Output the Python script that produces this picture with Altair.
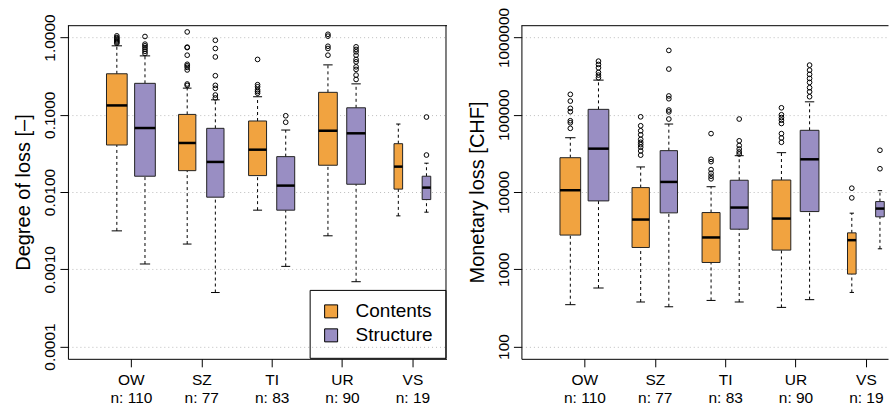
import json
import math
import altair as alt
import pandas as pd

# ---------------- data ----------------
categories = ["OW", "SZ", "TI", "UR", "VS"]
n_obs = [110, 77, 83, 90, 19]
groups = ["Contents", "Structure"]

# Degree of loss [-]
deg_c_low = [0.00314, 0.00212, 0.00582, 0.00271, 0.00491]
deg_c_q1 = [0.0406, 0.0189, 0.0163, 0.0222, 0.0109]
deg_c_med = [0.132, 0.0431, 0.0353, 0.0621, 0.0213]
deg_c_q3 = [0.339, 0.101, 0.083, 0.195, 0.0422]
deg_c_high = [0.78, 0.221, 0.171, 0.442, 0.0758]

deg_s_low = [0.00117, 0.0005, 0.00109, 0.00069, 0.00548]
deg_s_q1 = [0.016, 0.00857, 0.00582, 0.0126, 0.00798]
deg_s_med = [0.0673, 0.0245, 0.0121, 0.0575, 0.0114]
deg_s_q3 = [0.255, 0.0667, 0.0287, 0.123, 0.016]
deg_s_high = [0.578, 0.156, 0.0634, 0.251, 0.0236]

deg_c_out_OW = [1.05, 1.0, 0.97, 0.93, 0.9, 0.87, 0.84]
deg_c_out_SZ = [1.18, 0.75, 0.74, 0.59, 0.45, 0.43, 0.41, 0.38, 0.25, 0.24]
deg_c_out_TI = [0.52, 0.245, 0.23, 0.21, 0.2, 0.19]
deg_c_out_UR = [1.1, 1.04, 0.77, 0.72, 0.59]
deg_c_out_VS = []

deg_s_out_OW = [1.03, 0.82, 0.78, 0.74, 0.70, 0.66, 0.62]
deg_s_out_SZ = [0.92, 0.72, 0.56, 0.32, 0.24, 0.22, 0.18, 0.165]
deg_s_out_TI = [0.097, 0.08]
deg_s_out_UR = [0.757, 0.70, 0.652, 0.59, 0.52, 0.484, 0.417, 0.386, 0.326, 0.286]
deg_s_out_VS = [0.0934, 0.0301]

# Monetary loss [CHF]
mon_c_low = [348, 377, 395, 321, 501]
mon_c_q1 = [2770, 1914, 1224, 1770, 867]
mon_c_med = [10540, 4400, 2580, 4530, 2380]
mon_c_q3 = [27800, 11400, 5420, 14300, 2960]
mon_c_high = [50400, 21100, 11700, 32300, 5320]

mon_s_low = [572, 327, 377, 404, 1840]
mon_s_q1 = [7670, 5370, 3300, 5580, 4770]
mon_s_med = [36400, 13500, 6290, 26500, 6100]
mon_s_q3 = [117400, 34300, 14200, 62900, 7520]
mon_s_high = [280700, 75800, 29500, 147000, 10400]

mon_c_out_OW = [183600, 150300, 121000, 109400, 83600, 78800, 66700]
mon_c_out_SZ = [94000, 72000, 62000, 55000, 48000, 44000, 41000, 38000, 34000, 30000]
mon_c_out_TI = [57000, 26500, 24700, 19500, 17500, 16000, 14800]
mon_c_out_UR = [123000, 100000, 92000, 85000, 77000, 57000, 50000, 44000]
mon_c_out_VS = [11200, 8390]

mon_s_out_OW = [494000, 448000, 405000, 353000, 326000, 301000]
mon_s_out_SZ = [680000, 390000, 175000, 161000, 115000, 109000, 88000]
mon_s_out_TI = [88000, 46000, 40000, 36000, 33000, 31000]
mon_s_out_UR = [439000, 378000, 333000, 295000, 262000, 224000, 198000, 171000]
mon_s_out_VS = [34700, 20000]

# ---------------- style ----------------
ORANGE = "#F1A340"
PURPLE = "#998EC3"
FONT = "Liberation Sans"
HALF = 0.147      # half box width (x units) for the largest group
OFFSET = 0.2      # offset of the two boxes from the category tick
PLOT_H = 334
W_LEFT = 379
W_RIGHT = 367
PX_PER_UNIT = 70.45
X0 = 0.105
X_DOM_L = [X0, X0 + W_LEFT / PX_PER_UNIT]
X_DOM_R = [X0, X0 + W_RIGHT / PX_PER_UNIT]

LABEL_EXPR = (
    f"[{json.dumps(categories)}[datum.value - 1], "
    f"'n: ' + {json.dumps(n_obs)}[datum.value - 1]]"
)


def stats_frame(c_stats, s_stats):
    rows = []
    nmax = max(n_obs)
    for gi, (g, st) in enumerate([("Contents", c_stats), ("Structure", s_stats)]):
        low, q1, med, q3, high = st
        for i, cat in enumerate(categories):
            pos = i + 1 + (-OFFSET if gi == 0 else OFFSET)
            h = HALF * math.sqrt(n_obs[i] / nmax)
            rows.append(dict(cat=cat, group=g, pos=pos, left=pos - h, right=pos + h,
                             cl=pos - h / 2, cr=pos + h / 2, low=low[i], q1=q1[i],
                             med=med[i], q3=q3[i], high=high[i]))
    return pd.DataFrame(rows)


def outlier_frame(c_lists, s_lists):
    rows = []
    for gi, lists in enumerate([c_lists, s_lists]):
        for i, vals in enumerate(lists):
            pos = i + 1 + (-OFFSET if gi == 0 else OFFSET)
            for v in vals:
                rows.append(dict(cat=categories[i], group=groups[gi], pos=pos, value=v))
    return pd.DataFrame(rows)


def panel(stats, outs, title, domain, values, fmt, width, x_domain, legend, right_border):
    xs = alt.Scale(domain=x_domain, nice=False, zero=False)
    ys = alt.Scale(type="log", domain=domain, nice=False)
    x_axis = alt.Axis(values=[1, 2, 3, 4, 5], labelExpr=LABEL_EXPR, title=None, grid=False,
                      labelAngle=0, labelAlign="center", labelBaseline="top",
                      labelLineHeight=18, labelPadding=6, labelOverlap=False,
                      labelFlush=False, tickSize=8)
    y_axis = alt.Axis(values=values, format=fmt, title=title, grid=True, gridDash=[1, 3],
                      gridColor="#bdbdbd", labelAngle=270, labelAlign="center",
                      labelBaseline="alphabetic", labelPadding=5, tickSize=8,
                      titleAngle=270, titleX=-38, titleY=PLOT_H / 2, titleAlign="center",
                      titleBaseline="alphabetic", labelOverlap=False, labelFlush=False)

    def X(f):
        return alt.X(f"{f}:Q", scale=xs, axis=x_axis)

    def Y(f):
        return alt.Y(f"{f}:Q", scale=ys, axis=y_axis)

    base = alt.Chart(stats)
    dash = dict(color="black", strokeWidth=1, strokeDash=[3, 3])
    upper = base.mark_rule(**dash).encode(x=X("pos"), y=Y("q3"), y2="high")
    lower = base.mark_rule(**dash).encode(x=X("pos"), y=Y("low"), y2="q1")
    cap_u = base.mark_rule(color="black", strokeWidth=1).encode(x=X("cl"), x2="cr", y=Y("high"))
    cap_l = base.mark_rule(color="black", strokeWidth=1).encode(x=X("cl"), x2="cr", y=Y("low"))
    box = base.mark_rect(stroke="#222222", strokeWidth=1, opacity=1).encode(
        x=X("left"), x2="right", y=Y("q1"), y2="q3",
        color=alt.Color("group:N", scale=alt.Scale(domain=groups, range=[ORANGE, PURPLE]),
                        legend=legend),
    )
    median = base.mark_rule(color="black", strokeWidth=2.5).encode(
        x=X("left"), x2="right", y=Y("med"))
    pts = alt.Chart(outs).mark_point(shape="circle", filled=False, size=22, color="black",
                                     strokeWidth=1, opacity=1).encode(
        x=X("pos"), y=Y("value"))

    one = pd.DataFrame({"k": [0]})
    layers = [upper, lower, cap_u, cap_l, box, median, pts]
    layers.append(alt.Chart(one).mark_rule(color="black", strokeWidth=1).encode(
        x=alt.value(0), x2=alt.value(width + 0.5), y=alt.value(0.5)))
    if right_border:
        layers.append(alt.Chart(one).mark_rule(color="black", strokeWidth=1).encode(
            x=alt.value(width - 0.5), y=alt.value(0), y2=alt.value(PLOT_H)))
    return alt.layer(*layers).properties(width=width, height=PLOT_H)


deg_stats = stats_frame((deg_c_low, deg_c_q1, deg_c_med, deg_c_q3, deg_c_high),
                        (deg_s_low, deg_s_q1, deg_s_med, deg_s_q3, deg_s_high))
deg_outs = outlier_frame([deg_c_out_OW, deg_c_out_SZ, deg_c_out_TI, deg_c_out_UR, deg_c_out_VS],
                         [deg_s_out_OW, deg_s_out_SZ, deg_s_out_TI, deg_s_out_UR, deg_s_out_VS])
mon_stats = stats_frame((mon_c_low, mon_c_q1, mon_c_med, mon_c_q3, mon_c_high),
                        (mon_s_low, mon_s_q1, mon_s_med, mon_s_q3, mon_s_high))
mon_outs = outlier_frame([mon_c_out_OW, mon_c_out_SZ, mon_c_out_TI, mon_c_out_UR, mon_c_out_VS],
                         [mon_s_out_OW, mon_s_out_SZ, mon_s_out_TI, mon_s_out_UR, mon_s_out_VS])

legend = alt.Legend(title=None, orient="none", legendX=242, legendY=265,
                    symbolType="square", symbolSize=169, symbolStrokeColor="black",
                    symbolStrokeWidth=1, symbolOpacity=1, labelFontSize=19, labelFont=FONT,
                    labelColor="black", labelOffset=15, rowPadding=4, padding=12,
                    strokeColor="black")

left = panel(deg_stats, deg_outs, "Degree of loss [–]", [6.93e-5, 1.442],
             [0.0001, 0.001, 0.01, 0.1, 1], ".4f", W_LEFT, X_DOM_L, legend, True)
right = panel(mon_stats, mon_outs, "Monetary loss [CHF]", [69.3, 1.442e6],
              [100, 1000, 10000, 100000, 1000000], "d", W_RIGHT, X_DOM_R, None, False)

chart = (
    alt.hconcat(left, right, spacing=75, bounds="flush")
    .resolve_scale(color="independent", x="independent", y="independent")
    .configure_view(stroke=None)
    .configure_axis(labelFont=FONT, titleFont=FONT, labelFontSize=15.5, titleFontSize=20,
                    titleFontWeight="normal", labelColor="black", titleColor="black",
                    tickColor="black", domainColor="black", tickWidth=1, domainWidth=1)
    .properties(padding={"left": 14, "top": 7, "right": 0, "bottom": 0}, background="white")
)

chart.save("out.html", embed_options={"renderer": "svg", "actions": False})
